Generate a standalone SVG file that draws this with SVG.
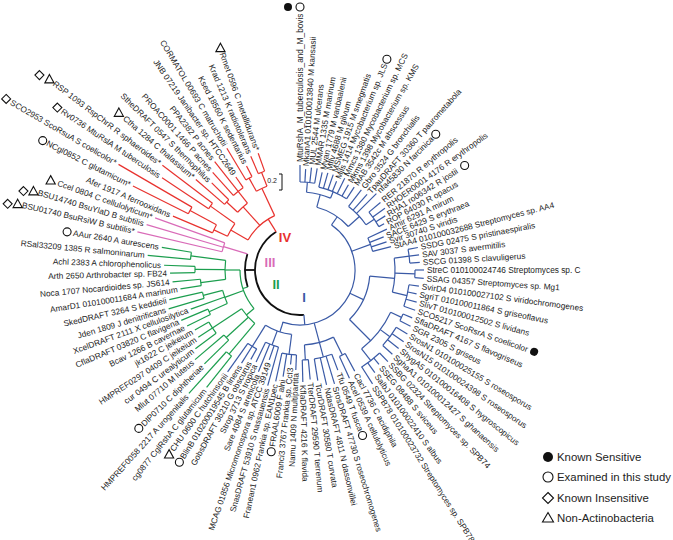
<svg xmlns="http://www.w3.org/2000/svg" width="673" height="540" viewBox="0 0 673 540">
<defs>
<style>
.t{font-family:"Liberation Sans",Arial,sans-serif;font-size:8.3px;fill:#222}
.e{text-anchor:end}
.br line,.br circle{fill:none;stroke-width:1.2}
.k{stroke:#111}.r{stroke:#e8322e}.p{stroke:#d96bb8}.g{stroke:#1c9e4e}.b{stroke:#3a5aa6}
.br .k line,.br .k circle{stroke-width:1.8}
.so{fill:#fff;stroke:#111;stroke-width:1.1}
.num{font-family:"Liberation Sans",Arial,sans-serif;font-weight:bold;font-size:13px;text-anchor:middle}
.lg{font-family:"Liberation Sans",Arial,sans-serif;font-size:11.4px;fill:#222}
</style>
<circle id="sO" r="4" class="so"/>
<circle id="sF" r="4" fill="#111"/>
<path id="sD" d="M0,-4.5L4.5,0L0,4.5L-4.5,0Z" class="so"/>
<path id="sT" d="M0,-4.6L4.6,3.8L-4.6,3.8Z" class="so"/>
</defs>
<rect width="673" height="540" fill="#fff"/>
<g transform="translate(300,270)">
<g id="connectors" class="br">
<g class="k">
<circle r="45" pathLength="360" stroke-dasharray="153 400" transform="rotate(85)"/>
<line x1="45" x2="55" transform="rotate(180)"/>
<circle r="55" pathLength="360" stroke-dasharray="35 400" transform="rotate(162)"/>
</g>
<g class="r">
<line x1="45" x2="60" transform="rotate(238)"/>
<circle r="60" pathLength="360" stroke-dasharray="35 400" transform="rotate(210)"/>
<line x1="60" x2="80" transform="rotate(210)"/>
<circle r="80" pathLength="360" stroke-dasharray="10.5 400" transform="rotate(205)"/>
<line x1="80" x2="95" transform="rotate(205)"/>
<circle r="95" pathLength="360" stroke-dasharray="5.4 400" transform="rotate(203)"/>
<line x1="95" x2="125" transform="rotate(208.4)"/>
<circle r="125" pathLength="360" stroke-dasharray="3.5 400" transform="rotate(206.7)"/>
<line x1="80" x2="110" transform="rotate(215.5)"/>
<circle r="110" pathLength="360" stroke-dasharray="3.5 400" transform="rotate(213.8)"/>
<line x1="60" x2="85" transform="rotate(228)"/>
<circle r="85" pathLength="360" stroke-dasharray="9 400" transform="rotate(222.8)"/>
<line x1="85" x2="100" transform="rotate(222.8)"/>
<circle r="100" pathLength="360" stroke-dasharray="3.6 400" transform="rotate(221)"/>
<line x1="85" x2="100" transform="rotate(231.8)"/>
<circle r="100" pathLength="360" stroke-dasharray="7.2 400" transform="rotate(228.2)"/>
<line x1="60" x2="90" transform="rotate(245)"/>
<circle r="90" pathLength="360" stroke-dasharray="7.5 400" transform="rotate(241)"/>
<line x1="90" x2="105" transform="rotate(241)"/>
<circle r="105" pathLength="360" stroke-dasharray="3.8 400" transform="rotate(239)"/>
<line x1="90" x2="105" transform="rotate(248.5)"/>
<circle r="105" pathLength="360" stroke-dasharray="3.7 400" transform="rotate(246.6)"/>
<line x1="95" x2="138" transform="rotate(203)"/>
<line x1="125" x2="187" transform="rotate(206.7)"/>
<line x1="125" x2="210" transform="rotate(210.2)"/>
<line x1="110" x2="166" transform="rotate(213.8)"/>
<line x1="110" x2="173" transform="rotate(217.3)"/>
<line x1="100" x2="138" transform="rotate(221)"/>
<line x1="100" x2="124" transform="rotate(224.6)"/>
<line x1="100" x2="131" transform="rotate(228.2)"/>
<line x1="100" x2="138" transform="rotate(231.8)"/>
<line x1="100" x2="113" transform="rotate(235.4)"/>
<line x1="105" x2="142" transform="rotate(239)"/>
<line x1="105" x2="117" transform="rotate(242.8)"/>
<line x1="105" x2="124" transform="rotate(246.6)"/>
<line x1="105" x2="124" transform="rotate(250.3)"/>
</g>
<g class="p">
<line x1="55" x2="80" transform="rotate(197)"/>
<circle r="80" pathLength="360" stroke-dasharray="6.6 400" transform="rotate(193.2)"/>
<line x1="80" x2="167" transform="rotate(193.2)"/>
<line x1="80" x2="160" transform="rotate(196.5)"/>
<line x1="80" x2="154" transform="rotate(199.8)"/>
</g>
<g class="g">
<line x1="55" x2="60" transform="rotate(162)"/>
<circle r="60" pathLength="360" stroke-dasharray="40 400" transform="rotate(140)"/>
<line x1="60" x2="70" transform="rotate(140)"/>
<circle r="70" pathLength="360" stroke-dasharray="16.3 400" transform="rotate(130.2)"/>
<line x1="70" x2="110" transform="rotate(130.2)"/>
<circle r="110" pathLength="360" stroke-dasharray="3.5 400" transform="rotate(128.5)"/>
<line x1="70" x2="100" transform="rotate(137.5)"/>
<circle r="100" pathLength="360" stroke-dasharray="4 400" transform="rotate(135.5)"/>
<line x1="70" x2="105" transform="rotate(146.5)"/>
<circle r="105" pathLength="360" stroke-dasharray="7.3 400" transform="rotate(143)"/>
<line x1="60" x2="80" transform="rotate(160)"/>
<circle r="80" pathLength="360" stroke-dasharray="10 400" transform="rotate(155.3)"/>
<line x1="80" x2="100" transform="rotate(155.3)"/>
<circle r="100" pathLength="360" stroke-dasharray="3.4 400" transform="rotate(153.6)"/>
<line x1="80" x2="100" transform="rotate(165.3)"/>
<circle r="100" pathLength="360" stroke-dasharray="3.7 400" transform="rotate(163.5)"/>
<line x1="60" x2="75" transform="rotate(180)"/>
<circle r="75" pathLength="360" stroke-dasharray="14.6 400" transform="rotate(172.8)"/>
<line x1="75" x2="100" transform="rotate(172.8)"/>
<circle r="100" pathLength="360" stroke-dasharray="3.7 400" transform="rotate(171)"/>
<line x1="75" x2="105" transform="rotate(180.3)"/>
<circle r="105" pathLength="360" stroke-dasharray="3.4 400" transform="rotate(178.6)"/>
<line x1="75" x2="110" transform="rotate(187.4)"/>
<circle r="110" pathLength="360" stroke-dasharray="3.8 400" transform="rotate(185.5)"/>
<line x1="110" x2="150" transform="rotate(128.5)"/>
<line x1="110" x2="166" transform="rotate(132)"/>
<line x1="100" x2="134" transform="rotate(135.5)"/>
<line x1="100" x2="138" transform="rotate(139.5)"/>
<line x1="105" x2="131" transform="rotate(143)"/>
<line x1="105" x2="122" transform="rotate(146.5)"/>
<line x1="105" x2="121" transform="rotate(150.3)"/>
<line x1="100" x2="126" transform="rotate(153.6)"/>
<line x1="100" x2="129" transform="rotate(157)"/>
<line x1="80" x2="116" transform="rotate(160.3)"/>
<line x1="100" x2="137" transform="rotate(163.5)"/>
<line x1="100" x2="134" transform="rotate(167.2)"/>
<line x1="100" x2="121" transform="rotate(171)"/>
<line x1="100" x2="128" transform="rotate(174.7)"/>
<line x1="105" x2="130" transform="rotate(178.6)"/>
<line x1="105" x2="136" transform="rotate(182)"/>
<line x1="110" x2="153" transform="rotate(185.5)"/>
<line x1="110" x2="140" transform="rotate(189.3)"/>
</g>
<g class="b">
<line x1="45" x2="55" transform="rotate(85)"/>
<circle r="55" pathLength="360" stroke-dasharray="163.5 400" transform="rotate(-55)"/>
<line x1="55" x2="65" transform="rotate(-55)"/>
<circle r="65" pathLength="360" stroke-dasharray="33 400" transform="rotate(-75)"/>
<line x1="65" x2="78" transform="rotate(-75)"/>
<circle r="78" pathLength="360" stroke-dasharray="18.2 400" transform="rotate(-85.2)"/>
<line x1="78" x2="88" transform="rotate(-85.2)"/>
<circle r="88" pathLength="360" stroke-dasharray="9.6 400" transform="rotate(-90)"/>
<line x1="78" x2="85" transform="rotate(-67)"/>
<circle r="85" pathLength="360" stroke-dasharray="20.4 400" transform="rotate(-77.2)"/>
<line x1="65" x2="80" transform="rotate(-42)"/>
<circle r="80" pathLength="360" stroke-dasharray="18.2 400" transform="rotate(-52.6)"/>
<line x1="80" x2="90" transform="rotate(-34.4)"/>
<circle r="90" pathLength="360" stroke-dasharray="11.2 400" transform="rotate(-40)"/>
<line x1="55" x2="75" transform="rotate(-20)"/>
<circle r="75" pathLength="360" stroke-dasharray="10.8 400" transform="rotate(-25.2)"/>
<line x1="55" x2="70" transform="rotate(25)"/>
<circle r="70" pathLength="360" stroke-dasharray="40 400" transform="rotate(5)"/>
<line x1="70" x2="95" transform="rotate(5)"/>
<circle r="95" pathLength="360" stroke-dasharray="20.7 400" transform="rotate(-7.2)"/>
<line x1="95" x2="110" transform="rotate(-7.2)"/>
<circle r="110" pathLength="360" stroke-dasharray="7.2 400" transform="rotate(-10.8)"/>
<line x1="95" x2="115" transform="rotate(1.9)"/>
<circle r="115" pathLength="360" stroke-dasharray="3.85 400" transform="rotate(0)"/>
<line x1="95" x2="110" transform="rotate(13.5)"/>
<circle r="110" pathLength="360" stroke-dasharray="11.55 400" transform="rotate(7.7)"/>
<line x1="70" x2="100" transform="rotate(45)"/>
<circle r="100" pathLength="360" stroke-dasharray="27 400" transform="rotate(25)"/>
<line x1="100" x2="112" transform="rotate(25)"/>
<circle r="112" pathLength="360" stroke-dasharray="3.85 400" transform="rotate(23.1)"/>
<line x1="100" x2="112" transform="rotate(36.6)"/>
<circle r="112" pathLength="360" stroke-dasharray="11.55 400" transform="rotate(30.8)"/>
<line x1="100" x2="115" transform="rotate(52)"/>
<circle r="115" pathLength="360" stroke-dasharray="11.55 400" transform="rotate(46.2)"/>
<line x1="55" x2="90" transform="rotate(75)"/>
<circle r="75" pathLength="360" stroke-dasharray="23.1 400" transform="rotate(63.5)"/>
<line x1="75" x2="95" transform="rotate(63.5)"/>
<circle r="95" pathLength="360" stroke-dasharray="3.85 400" transform="rotate(61.6)"/>
<circle r="90" pathLength="360" stroke-dasharray="11.55 400" transform="rotate(69.3)"/>
<line x1="75" x2="90" transform="rotate(86.6)"/>
<circle r="90" pathLength="360" stroke-dasharray="3.85 400" transform="rotate(84.7)"/>
<line x1="55" x2="65" transform="rotate(108)"/>
<circle r="65" pathLength="360" stroke-dasharray="24.6 400" transform="rotate(97.4)"/>
<line x1="65" x2="85" transform="rotate(97.4)"/>
<circle r="85" pathLength="360" stroke-dasharray="9.9 400" transform="rotate(92.4)"/>
<line x1="65" x2="80" transform="rotate(110.5)"/>
<circle r="80" pathLength="360" stroke-dasharray="9.9 400" transform="rotate(105.6)"/>
<line x1="65" x2="90" transform="rotate(122)"/>
<circle r="90" pathLength="360" stroke-dasharray="6.6 400" transform="rotate(118.8)"/>
<line x1="88" x2="105" transform="rotate(-90)"/>
<line x1="88" x2="101" transform="rotate(-86.8)"/>
<line x1="88" x2="103" transform="rotate(-83.6)"/>
<line x1="88" x2="103" transform="rotate(-80.4)"/>
<line x1="85" x2="100" transform="rotate(-77.2)"/>
<line x1="85" x2="101" transform="rotate(-74)"/>
<line x1="85" x2="101" transform="rotate(-70.8)"/>
<line x1="85" x2="96" transform="rotate(-67.6)"/>
<line x1="85" x2="102" transform="rotate(-64)"/>
<line x1="85" x2="98" transform="rotate(-60.4)"/>
<line x1="85" x2="99" transform="rotate(-56.8)"/>
<line x1="80" x2="101" transform="rotate(-52.6)"/>
<line x1="80" x2="101" transform="rotate(-48.4)"/>
<line x1="80" x2="108" transform="rotate(-45)"/>
<line x1="90" x2="105" transform="rotate(-40)"/>
<line x1="90" x2="105" transform="rotate(-36)"/>
<line x1="90" x2="101" transform="rotate(-32.4)"/>
<line x1="90" x2="96" transform="rotate(-28.8)"/>
<line x1="75" x2="96" transform="rotate(-25.2)"/>
<line x1="75" x2="90" transform="rotate(-21.6)"/>
<line x1="75" x2="91" transform="rotate(-18)"/>
<line x1="75" x2="94" transform="rotate(-14.4)"/>
<line x1="110" x2="120" transform="rotate(-10.8)"/>
<line x1="110" x2="120" transform="rotate(-7.2)"/>
<line x1="110" x2="120" transform="rotate(-3.6)"/>
<line x1="115" x2="124" transform="rotate(0)"/>
<line x1="115" x2="124" transform="rotate(3.85)"/>
<line x1="110" x2="120" transform="rotate(7.7)"/>
<line x1="110" x2="119" transform="rotate(11.55)"/>
<line x1="110" x2="121" transform="rotate(15.4)"/>
<line x1="110" x2="122" transform="rotate(19.25)"/>
<line x1="112" x2="122" transform="rotate(23.1)"/>
<line x1="112" x2="124" transform="rotate(26.95)"/>
<line x1="112" x2="125" transform="rotate(30.8)"/>
<line x1="112" x2="126" transform="rotate(34.65)"/>
<line x1="112" x2="126" transform="rotate(38.5)"/>
<line x1="112" x2="125" transform="rotate(42.35)"/>
<line x1="115" x2="127" transform="rotate(46.2)"/>
<line x1="115" x2="123" transform="rotate(50.05)"/>
<line x1="115" x2="127" transform="rotate(53.9)"/>
<line x1="115" x2="135" transform="rotate(57.5)"/>
<line x1="95" x2="115" transform="rotate(61.6)"/>
<line x1="95" x2="119" transform="rotate(65.45)"/>
<line x1="90" x2="107" transform="rotate(69.3)"/>
<line x1="90" x2="119" transform="rotate(73.15)"/>
<line x1="90" x2="118" transform="rotate(77)"/>
<line x1="90" x2="112" transform="rotate(80.85)"/>
<line x1="90" x2="110" transform="rotate(84.7)"/>
<line x1="90" x2="112" transform="rotate(88.55)"/>
<line x1="85" x2="100" transform="rotate(92.4)"/>
<line x1="85" x2="95" transform="rotate(95.7)"/>
<line x1="85" x2="108" transform="rotate(99)"/>
<line x1="85" x2="114" transform="rotate(102.3)"/>
<line x1="80" x2="120" transform="rotate(105.6)"/>
<line x1="80" x2="95" transform="rotate(108.9)"/>
<line x1="80" x2="110" transform="rotate(112.2)"/>
<line x1="80" x2="102" transform="rotate(115.5)"/>
<line x1="90" x2="102" transform="rotate(118.8)"/>
<line x1="90" x2="110" transform="rotate(122.1)"/>
<line x1="90" x2="125" transform="rotate(125.4)"/>
</g>
</g>
<g id="clade-labels">
<text class="num" x="-15" y="-28" fill="#e8322e">IV</text>
<text class="num" x="-30" y="-3" fill="#d96bb8">III</text>
<text class="num" x="-24" y="19" fill="#1c9e4e">II</text>
<text class="num" x="4" y="32" fill="#3a5aa6">I</text>
</g>
<g id="scalebar">
<path d="M-21,-96H-18V-80H-21" fill="none" stroke="#111" stroke-width="1"/>
<text x="-23" y="-87" font-family="Liberation Sans,Arial,sans-serif" font-size="7" text-anchor="end" fill="#222">0.2</text>
</g>
<g id="leaves" class="t">
<g id="n01" transform="rotate(-90)"><text x="108" y="2.9">MtuRshA_M_tuberculosis_and_M_bovis</text><use href="#sO" transform="translate(263,0) rotate(90)"/><use href="#sF" transform="translate(263,0) rotate(90) translate(-12,0)"/></g>
<g id="n02" transform="rotate(-86.8)"><text x="104" y="2.9">MkanA1 010100013840 M kansasii</text></g>
<g id="n03" transform="rotate(-83.6)"><text x="106" y="2.9">MUL 2544 M ulcerans</text></g>
<g id="n04" transform="rotate(-80.4)"><text x="106" y="2.9">MMAR 1335 M marinum</text></g>
<g id="n05" transform="rotate(-77.2)"><text x="103" y="2.9">Mvan 1779 M vanbaalenii</text></g>
<g id="n06" transform="rotate(-74)"><text x="104" y="2.9">Mflv 4688 M gilvum</text></g>
<g id="n07" transform="rotate(-70.8)"><text x="104" y="2.9">MSMEG 1915 M smegmatis</text></g>
<g id="n08" transform="rotate(-67.6)"><text x="99" y="2.9">Mjls 1414 Mycobacterium sp. JLS</text><use href="#sO" transform="translate(228,0) rotate(67.6)"/></g>
<g id="n09" transform="rotate(-64)"><text x="105" y="2.9">Mmcs 1380 Mycobacterium sp. MCS</text></g>
<g id="n10" transform="rotate(-60.4)"><text x="101" y="2.9">Mkms 1398 Mycobacterium sp. KMS</text></g>
<g id="n11" transform="rotate(-56.8)"><text x="102" y="2.9">MAB 3542c M abscessus</text></g>
<g id="n12" transform="rotate(-52.6)"><text x="104" y="2.9">Gbro 3524 G bronchialis</text></g>
<g id="n13" transform="rotate(-48.4)"><text x="104" y="2.9">TpauDRAFT 30360 T paurometabola</text></g>
<g id="n14" transform="rotate(-45)"><text x="111" y="2.9">nfa45830 N farcinica</text><use href="#sO" transform="translate(192,0) rotate(45)"/></g>
<g id="n15" transform="rotate(-40)"><text x="108" y="2.9">RER 21870 R erythropolis</text></g>
<g id="n16" transform="rotate(-36)"><text x="108" y="2.9">RHOER0001 4176 R erythropolis</text></g>
<g id="n17" transform="rotate(-32.4)"><text x="104" y="2.9">RHA1 ro06342 R jostii</text><use href="#sO" transform="translate(195,0) rotate(32.4)"/></g>
<g id="n18" transform="rotate(-28.8)"><text x="99" y="2.9">ROP 64030 R opacus</text></g>
<g id="n19" transform="rotate(-25.2)"><text x="99" y="2.9">Amir 6291 A mirum</text></g>
<g id="n20" transform="rotate(-21.6)"><text x="93" y="2.9">SACE 6429 S erythraea</text></g>
<g id="n21" transform="rotate(-18)"><text x="94" y="2.9">Svir 30740 S viridis</text></g>
<g id="n22" transform="rotate(-14.4)"><text x="97" y="2.9">StAA4 010100032688 Streptomyces sp. AA4</text></g>
<g id="n23" transform="rotate(-10.8)"><text x="123" y="2.9">SSDG 02475 S pristinaespiralis</text></g>
<g id="n24" transform="rotate(-7.2)"><text x="123" y="2.9">SAV 3037 S avermitilis</text></g>
<g id="n25" transform="rotate(-3.6)"><text x="123" y="2.9">SSCG 01398 S clavuligerus</text></g>
<g id="n26" transform="rotate(0)"><text x="127" y="2.9">StreC 010100024746 Streptomyces sp. C</text></g>
<g id="n27" transform="rotate(3.85)"><text x="127" y="2.9">SSAG 04357 Streptomyces sp. Mg1</text></g>
<g id="n28" transform="rotate(7.7)"><text x="123" y="2.9">SvirD4 010100027102 S viridochromogenes</text></g>
<g id="n29" transform="rotate(11.55)"><text x="122" y="2.9">SgriT 010100011864 S griseoflavus</text></g>
<g id="n30" transform="rotate(15.4)"><text x="124" y="2.9">SlivT 010100012502 S lividans</text></g>
<g id="n31" transform="rotate(19.25)"><text x="125" y="2.9">SCO5217 ScoRsrA S coelicolor</text><use href="#sF" transform="translate(248,0)"/></g>
<g id="n32" transform="rotate(23.1)"><text x="125" y="2.9">SflaDRAFT 4167 S flavogriseus</text></g>
<g id="n33" transform="rotate(26.95)"><text x="127" y="2.9">SGR 2305 S griseus</text></g>
<g id="n34" transform="rotate(30.8)"><text x="128" y="2.9">SrosN1 010100025155 S roseosporus</text></g>
<g id="n35" transform="rotate(34.65)"><text x="129" y="2.9">SrosN15 010100024398 S roseosporus</text></g>
<g id="n36" transform="rotate(38.5)"><text x="129" y="2.9">ShygA5 010100016408 S hygroscopicus</text></g>
<g id="n37" transform="rotate(42.35)"><text x="128" y="2.9">SghaA1 010100012427 S ghanaensis</text></g>
<g id="n38" transform="rotate(46.2)"><text x="130" y="2.9">SSBG 02324 Streptomyces sp. SPB74</text></g>
<g id="n39" transform="rotate(50.05)"><text x="126" y="2.9">SSEG 08488 S sviceus</text></g>
<g id="n40" transform="rotate(53.9)"><text x="130" y="2.9">SalbJ 010100022410 S albus</text></g>
<g id="n41" transform="rotate(57.5)"><text x="138" y="2.9">SSPB78 010100023732 Streptomyces sp. SPB78</text></g>
<g id="n42" transform="rotate(61.6)"><text x="118" y="2.9">Cacl 7736 C acidiphila</text></g>
<g id="n43" transform="rotate(65.45)"><text x="122" y="2.9">Acel 0539 A cellulolyticus</text></g>
<g id="n44" transform="rotate(69.3)"><text x="110" y="2.9">Tfu 0549 T fusca</text><use href="#sO" transform="translate(177,0) rotate(-69.3)"/></g>
<g id="n45" transform="rotate(73.15)"><text x="122" y="2.9">SrosDRAFT 47730 S roseochromogenes</text></g>
<g id="n46" transform="rotate(77)"><text x="121" y="2.9">NdasDRAFT 4811 N dassonvillei</text></g>
<g id="n47" transform="rotate(80.85)"><text x="115" y="2.9">TcurDRAFT 30580 T curvata</text></g>
<g id="n48" transform="rotate(84.7)"><text x="113" y="2.9">TterDRAFT 29590 T terrenum</text></g>
<g id="n49" transform="rotate(88.55)"><text x="115" y="2.9">KflaDRAFT 4216 K flavida</text></g>
<g id="n50" transform="rotate(92.4)"><text class="e" transform="rotate(180)" x="-103" y="2.9">Namu 1409 N multipartita</text></g>
<g id="n51" transform="rotate(95.7)"><text class="e" transform="rotate(180)" x="-98" y="2.9">Franci3 3767 Frankia sp. CcI3</text></g>
<g id="n52" transform="rotate(99)"><text class="e" transform="rotate(180)" x="-111" y="2.9">FRAAL6009 F alni</text><use href="#sO" transform="translate(184,0) rotate(-99)"/></g>
<g id="n53" transform="rotate(102.3)"><text class="e" transform="rotate(180)" x="-117" y="2.9">Franean1 0962 Frankia sp. EAN1pec</text></g>
<g id="n54" transform="rotate(105.6)"><text class="e" transform="rotate(180)" x="-123" y="2.9">SnasDRAFT 53910 S nassauensis</text></g>
<g id="n55" transform="rotate(108.9)"><text class="e" transform="rotate(180)" x="-98" y="2.9">MCAG 01856 Micromonospora sp. ATCC 39149</text></g>
<g id="n56" transform="rotate(112.2)"><text class="e" transform="rotate(180)" x="-113" y="2.9">Sare 4084 S arenicola</text></g>
<g id="n57" transform="rotate(115.5)"><text class="e" transform="rotate(180)" x="-105" y="2.9">Strop 3713 S tropica</text></g>
<g id="n58" transform="rotate(118.8)"><text class="e" transform="rotate(180)" x="-105" y="2.9">GobsDRAFT 36210 G obscurus</text></g>
<g id="n59" transform="rotate(122.1)"><text class="e" transform="rotate(180)" x="-113" y="2.9">BlinB 010200019545 B linens</text><use href="#sO" transform="translate(227,0) rotate(-122.1)"/></g>
<g id="n60" transform="rotate(125.4)"><text class="e" transform="rotate(180)" x="-128" y="2.9">CHU 0600 C hutchinsonii</text><use href="#sT" transform="translate(226,0) rotate(-125.4)"/></g>
<g id="n61" transform="rotate(128.5)"><text class="e" transform="rotate(180)" x="-153" y="2.9">cg0877 CglRshA C glutamicum</text></g>
<g id="n62" transform="rotate(132)"><text class="e" transform="rotate(180)" x="-169" y="2.9">HMPREF0058 2217 A urogenitalis</text></g>
<g id="n63" transform="rotate(135.5)"><text class="e" transform="rotate(180)" x="-137" y="2.9">DIP0710 C diphtheriae</text><use href="#sO" transform="translate(226,0) rotate(-135.5)"/></g>
<g id="n64" transform="rotate(139.5)"><text class="e" transform="rotate(180)" x="-141" y="2.9">Mlut 07710 M luteus</text></g>
<g id="n65" transform="rotate(143)"><text class="e" transform="rotate(180)" x="-134" y="2.9">cur 0494 C urealyticum</text></g>
<g id="n66" transform="rotate(146.5)"><text class="e" transform="rotate(180)" x="-125" y="2.9">HMPREF0297 0409 C jeikeium</text></g>
<g id="n67" transform="rotate(150.3)"><text class="e" transform="rotate(180)" x="-124" y="2.9">jk1622 C jeikeium</text></g>
<g id="n68" transform="rotate(153.6)"><text class="e" transform="rotate(180)" x="-129" y="2.9">Bcav 1266 B cavernae</text></g>
<g id="n69" transform="rotate(157)"><text class="e" transform="rotate(180)" x="-132" y="2.9">CflaDRAFT 03820 C flavigena</text></g>
<g id="n70" transform="rotate(160.3)"><text class="e" transform="rotate(180)" x="-119" y="2.9">XcelDRAFT 2111 X cellulosilytica</text></g>
<g id="n71" transform="rotate(163.5)"><text class="e" transform="rotate(180)" x="-140" y="2.9">Jden 1809 J denitrificans</text></g>
<g id="n72" transform="rotate(167.2)"><text class="e" transform="rotate(180)" x="-137" y="2.9">SkedDRAFT 3264 S keddieii</text></g>
<g id="n73" transform="rotate(171)"><text class="e" transform="rotate(180)" x="-124" y="2.9">AmarD1 010100011684 A marinum</text></g>
<g id="n74" transform="rotate(174.7)"><text class="e" transform="rotate(180)" x="-131" y="2.9">Noca 1707 Nocardioides sp. JS614</text></g>
<g id="n75" transform="rotate(178.6)"><text class="e" transform="rotate(180)" x="-133" y="2.9">Arth 2650 Arthrobacter sp. FB24</text></g>
<g id="n76" transform="rotate(182)"><text class="e" transform="rotate(180)" x="-139" y="2.9">Achl 2383 A chlorophenolicus</text></g>
<g id="n77" transform="rotate(185.5)"><text class="e" transform="rotate(180)" x="-156" y="2.9">RSal33209 1385 R salmoninarum</text></g>
<g id="n78" transform="rotate(189.3)"><text class="e" transform="rotate(180)" x="-143" y="2.9">AAur 2640 A aurescens</text><use href="#sO" transform="translate(236,0) rotate(-189.3)"/></g>
<g id="n79" transform="rotate(193.2)"><text class="e" transform="rotate(180)" x="-170" y="2.9">BSU01740 BsuRsiW B subtilis*</text><use href="#sT" transform="translate(290,0) rotate(-193.2)"/><use href="#sD" transform="translate(290,0) rotate(-193.2) translate(-10,0)"/></g>
<g id="n80" transform="rotate(196.5)"><text class="e" transform="rotate(180)" x="-163" y="2.9">BSU14740 BsuYlaD B subtilis</text><use href="#sT" transform="translate(278,0) rotate(-196.5)"/><use href="#sD" transform="translate(278,0) rotate(-196.5) translate(-10,0)"/></g>
<g id="n81" transform="rotate(199.8)"><text class="e" transform="rotate(180)" x="-157" y="2.9">Ccel 0804 C cellulolyticum*</text><use href="#sT" transform="translate(265,0) rotate(-199.8)"/></g>
<g id="n82" transform="rotate(203)"><text class="e" transform="rotate(180)" x="-141" y="2.9">Afer 1917 A ferrooxidans</text></g>
<g id="n83" transform="rotate(206.7)"><text class="e" transform="rotate(180)" x="-190" y="2.9">NCgl0852 C glutamicum*</text><use href="#sO" transform="translate(288,0) rotate(-206.7)"/></g>
<g id="n84" transform="rotate(210.2)"><text class="e" transform="rotate(180)" x="-213" y="2.9">SCO2953 ScoRsuA S coelicolor*</text><use href="#sD" transform="translate(340,0) rotate(-210.2)"/></g>
<g id="n85" transform="rotate(213.8)"><text class="e" transform="rotate(180)" x="-169" y="2.9">Rv0736 MtuRslA M tuberculosis</text><use href="#sD" transform="translate(292,0) rotate(-213.8)"/></g>
<g id="n86" transform="rotate(217.3)"><text class="e" transform="rotate(180)" x="-176" y="2.9">RSP 1093 RspChrR R sphaeroides*</text><use href="#sT" transform="translate(315,0) rotate(-217.3)"/><use href="#sD" transform="translate(315,0) rotate(-217.3) translate(-10,-4)"/></g>
<g id="n87" transform="rotate(221)"><text class="e" transform="rotate(180)" x="-141" y="2.9">Ctha 1284 C thalassium*</text><use href="#sT" transform="translate(240,0) rotate(-221)"/></g>
<g id="n88" transform="rotate(224.6)"><text class="e" transform="rotate(180)" x="-127" y="2.9">StheDRAFT 0547 S thermophilus</text></g>
<g id="n89" transform="rotate(228.2)"><text class="e" transform="rotate(180)" x="-134" y="2.9">PROAC0001 1466 P acnes</text></g>
<g id="n90" transform="rotate(231.8)"><text class="e" transform="rotate(180)" x="-141" y="2.9">PPA2382 P acnes</text></g>
<g id="n91" transform="rotate(235.4)"><text class="e" transform="rotate(180)" x="-116" y="2.9">JNB 07219 Janibacter sp. HTCC2649</text></g>
<g id="n92" transform="rotate(239)"><text class="e" transform="rotate(180)" x="-145" y="2.9">CORMATOL 00693 C matruchotii</text></g>
<g id="n93" transform="rotate(242.8)"><text class="e" transform="rotate(180)" x="-120" y="2.9">Ksed 18560 K sedentarius</text></g>
<g id="n94" transform="rotate(246.6)"><text class="e" transform="rotate(180)" x="-127" y="2.9">Krad 1213 K radiotolerans</text></g>
<g id="n95" transform="rotate(250.3)"><text class="e" transform="rotate(180)" x="-127" y="2.9">Rmet 0596 C metallidurans*</text><use href="#sT" transform="translate(236,0) rotate(-250.3)"/></g>
</g>
</g>
<g id="legend">
<circle cx="548" cy="457" r="5" fill="#111"/>
<text class="lg" x="557" y="461">Known Sensitive</text>
<circle cx="548" cy="477" r="5" class="so"/>
<text class="lg" x="557" y="481">Examined in this study</text>
<path d="M548,492.5L553.5,498L548,503.5L542.5,498Z" class="so"/>
<text class="lg" x="557" y="502">Known Insensitive</text>
<path d="M548,512.5L553.5,522L542.5,522Z" class="so"/>
<text class="lg" x="557" y="522">Non-Actinobacteria</text>
</g>
</svg>
